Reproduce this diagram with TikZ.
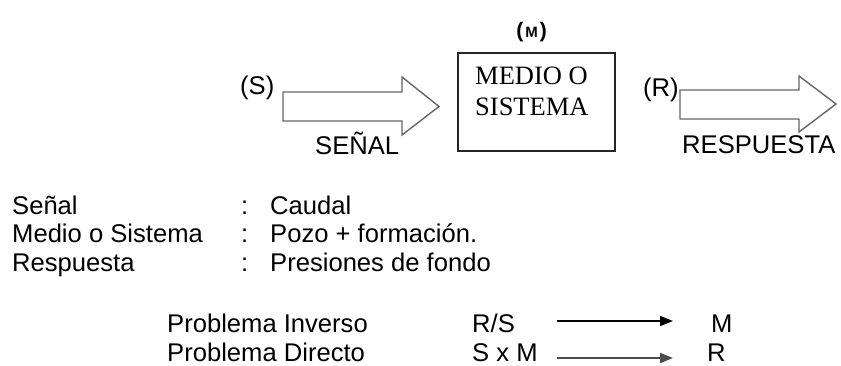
\documentclass[tikz,border=0pt]{standalone}
\usepackage{fontspec}
\setmainfont{Liberation Sans}
\newfontfamily\boxserif{Liberation Serif}
\usetikzlibrary{arrows.meta}
\tikzset{
  txt/.style={inner sep=0pt, anchor=base west, font=\fontsize{25.6}{30}\selectfont},
  serif/.style={inner sep=0pt, anchor=base west, font=\boxserif\fontsize{26.5}{30}\selectfont},
  blockarrow/.style={draw=black!60, line width=1.4pt, line join=miter},
  mediobox/.style={draw=black!85, line width=1.4pt, inner sep=0pt, minimum width=157pt, minimum height=98pt},
  probarrow/.style={line width=1.6pt, -{Triangle[length=13pt,width=10pt]}}
}
\begin{document}
\begin{tikzpicture}[x=1pt,y=-1pt]
\useasboundingbox (0,0) rectangle (841,366);
% top diagram
\node[inner sep=0pt, anchor=base, font=\fontsize{21}{21}\selectfont\bfseries] (mlab) at (531.5,38) {(\hspace{2pt}{\fontsize{15}{15}\selectfont M}\hspace{2pt})};
\node[mediobox] (medio) at (536.5,102) {};
\node[serif] (medio1) at (475,85) {MEDIO O};
\node[serif] (medio2) at (475,116) {SISTEMA};

\node[txt] (S) at (240,95) {(S)};
\draw[blockarrow] (283,92) -- (402,92) -- (402,77) -- (439,106.5) -- (402,135) -- (402,121) -- (283,121) -- cycle;
\node[txt] (senal) at (315,155) {SEÑAL};

\node[txt] (R) at (643,97) {(R)};
\draw[blockarrow] (680,90) -- (799,90) -- (799,76) -- (836,104) -- (799,132) -- (799,119) -- (680,119) -- cycle;
\node[txt] (resp) at (682,154) {RESPUESTA};

% definitions
\node[txt] (l1) at (12,215) {Señal};
\node[txt] (l2) at (12,243) {Medio o Sistema};
\node[txt] (l3) at (12,272) {Respuesta};
\node[txt] (c1) at (241,215) {:};
\node[txt] (c2) at (241,243) {:};
\node[txt] (c3) at (241,272) {:};
\node[txt] (v1) at (270,215) {Caudal};
\node[txt] (v2) at (270,243) {Pozo + formación.};
\node[txt] (v3) at (270,272) {Presiones de fondo};

% problems
\node[txt] (p1) at (167,332) {Problema Inverso};
\node[txt] (p2) at (167,361) {Problema Directo};
\node[txt] (rs) at (472,332) {R/S};
\node[txt] (sxm) at (472,361) {S x M};
\node[txt] (mres) at (711,332) {M};
\node[txt] (rres) at (707,361) {R};
\coordinate (a1s) at (557,321);
\coordinate (a1e) at (673,321);
\coordinate (a2s) at (557,358);
\coordinate (a2e) at (673,358);
\draw[probarrow, black] (a1s) -- (a1e);
\draw[probarrow, black!70, line width=2pt] (a2s) -- (a2e);
\end{tikzpicture}
\end{document}
